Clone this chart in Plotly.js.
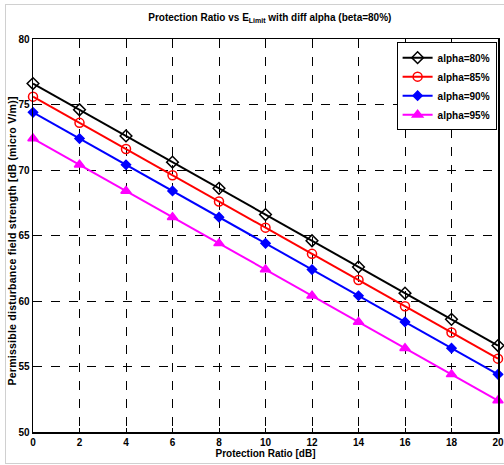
<!DOCTYPE html>
<html><head><meta charset="utf-8">
<script src="https://cdn.plot.ly/plotly-3.0.1.min.js"></script>
<style>
html,body{margin:0;padding:0;background:#fff;overflow:hidden;width:504px;height:465px;}
#frame{position:absolute;left:5px;top:4px;width:510px;height:458px;border:1px solid #d0d0d0;}
#plot{position:absolute;left:0;top:0;width:512px;height:465px;}
.annotation-text{letter-spacing:0.25px;}
</style></head>
<body>
<div id="frame"></div>
<div id="plot"></div>
<script>
var protectionRatio = [0, 2, 4, 6, 8, 10, 12, 14, 16, 18, 20];
var alpha80 = [76.6, 74.6, 72.6, 70.6, 68.6, 66.6, 64.6, 62.6, 60.6, 58.6, 56.6];
var alpha85 = [75.6, 73.6, 71.6, 69.6, 67.6, 65.6, 63.6, 61.6, 59.6, 57.6, 55.6];
var alpha90 = [74.4, 72.4, 70.4, 68.4, 66.4, 64.4, 62.4, 60.4, 58.4, 56.4, 54.4];
var alpha95 = [72.4, 70.4, 68.4, 66.4, 64.4, 62.4, 60.4, 58.4, 56.4, 54.4, 52.4];
var seriesNames = ['alpha=80%', 'alpha=85%', 'alpha=90%', 'alpha=95%'];
var xTicks = [0, 2, 4, 6, 8, 10, 12, 14, 16, 18, 20];
var yTicks = [50, 55, 60, 65, 70, 75, 80];
var yTitle = 'Permissible disturbance field strength [dB (micro V/m)]';

var fnt = 'Liberation Sans Narrow, Arial Narrow, Liberation Sans, Arial, sans-serif';
function tr(y, name, color, sym, size) {
  return {x: protectionRatio, y: y, name: name, type: 'scatter', mode: 'lines+markers',
    cliponaxis: false,
    line: {color: color, width: 2},
    marker: {symbol: sym, size: size, color: color, line: {color: color, width: 1.5}}};
}
var data = [
  tr(alpha80, seriesNames[0], '#000000', 'diamond-open', 9),
  tr(alpha85, seriesNames[1], '#ff0000', 'circle-open', 9),
  tr(alpha90, seriesNames[2], '#0000ff', 'diamond', 7),
  tr(alpha95, seriesNames[3], '#ff00ff', 'triangle-up', 9)
];
var axisCommon = {
  showline: true, linecolor: '#000', linewidth: 1.5, mirror: true,
  showgrid: true, gridcolor: '#000', griddash: 'dash', gridwidth: 1,
  zeroline: false, ticks: 'inside', ticklen: 4, tickcolor: '#000',
  tickfont: {family: fnt, size: 10, color: '#000', weight: 'bold'}
};
var layout = {
  width: 512, height: 465,
  margin: {l: 33, r: 14, t: 39, b: 33},
  paper_bgcolor: 'rgba(0,0,0,0)', plot_bgcolor: '#fff',
  showlegend: true,
  title: {text: 'Protection Ratio vs E<sub>Limit</sub> with diff alpha (beta=80%)',
    font: {family: fnt, size: 10, color: '#000', weight: 'bold'},
    x: 0.527, xanchor: 'center', y: 0.963, yanchor: 'middle'},
  xaxis: Object.assign({}, axisCommon, {range: [0, 20], tickvals: xTicks,
    title: {text: 'Protection Ratio [dB]', font: {family: fnt, size: 10, color: '#000', weight: 'bold'}, standoff: 3}}),
  yaxis: Object.assign({}, axisCommon, {range: [50, 80], tickvals: yTicks}),
  annotations: [{text: yTitle, xref: 'paper', yref: 'paper', x: 0, y: 0.5,
    xanchor: 'center', yanchor: 'middle', xshift: -22, yshift: -6, textangle: -90, showarrow: false,
    font: {family: 'Liberation Sans, Arial, sans-serif', size: 10.5, color: '#000', weight: 'bold'}}],
  legend: {x: 0.997, xanchor: 'right', y: 0.992, yanchor: 'top',
    bgcolor: '#fff', bordercolor: '#000', borderwidth: 1,
    font: {family: fnt, size: 10, color: '#000', weight: 'bold'},
    tracegroupgap: 0, itemwidth: 30}
};
Plotly.newPlot('plot', data, layout, {staticPlot: true});
</script>
</body></html>
